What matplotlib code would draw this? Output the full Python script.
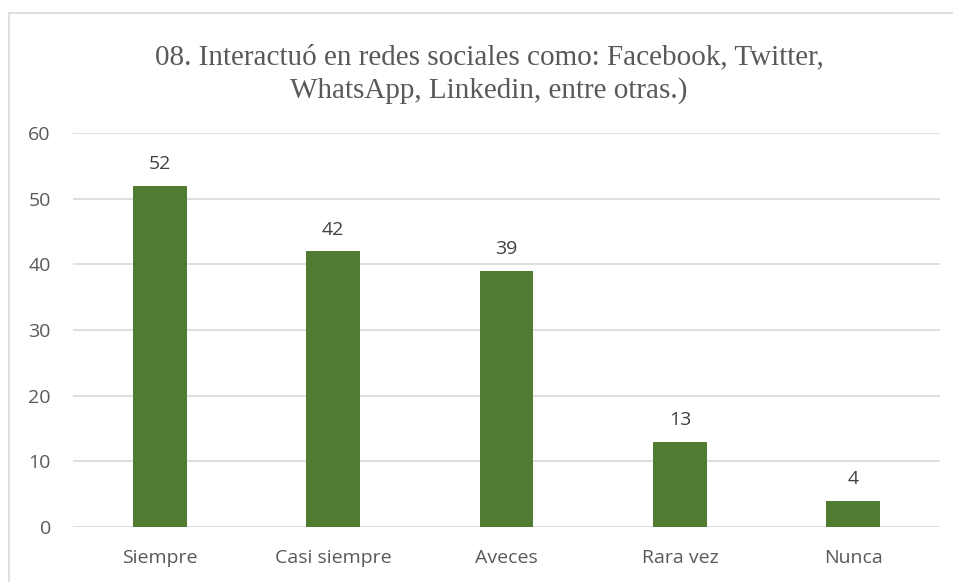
import matplotlib
matplotlib.use("Agg")
import matplotlib.pyplot as plt
from matplotlib.patches import Rectangle

categories = ["Siempre", "Casi siempre", "Aveces", "Rara vez", "Nunca"]
values = [52, 42, 39, 13, 4]
yticks = [0, 10, 20, 30, 40, 50, 60]
title = "08. Interactuó en redes sociales como: Facebook, Twitter,\nWhatsApp, Linkedin, entre otras.)"

W, H = 954, 582
fig = plt.figure(figsize=(W / 100, H / 100), dpi=100)
fig.patch.set_facecolor("white")

# outer chart border
fig.add_artist(Rectangle((9 / W, -0.01), 1.2, (H - 13) / H + 0.01, transform=fig.transFigure,
                         fill=False, edgecolor="#d9d9d9", linewidth=1.2))

left, right = 73 / W, 940 / W
bottom, top = 1 - 527 / H, 1 - 133 / H
ax = fig.add_axes([left, bottom, right - left, top - bottom])

x = list(range(len(categories)))
bars = ax.bar(x, values, width=0.31, color="#507C32", zorder=3)
ax.set_xlim(-0.5, len(categories) - 0.5)
ax.set_ylim(0, 60)
ax.set_yticks(yticks)
ax.set_xticks(x)
ax.set_xticklabels(categories)
ax.grid(axis="y", color="#d9d9d9", linewidth=1.2, zorder=0)
for s in ax.spines.values():
    s.set_visible(False)
ax.tick_params(length=0, labelsize=14, labelcolor="#595959")
ax.tick_params(axis="y", pad=16)
ax.tick_params(axis="x", pad=16)
for lbl in ax.get_xticklabels() + ax.get_yticklabels():
    lbl.set_family(["Open Sans", "DejaVu Sans"])

for b, v in zip(bars, values):
    ax.annotate(str(v), (b.get_x() + b.get_width() / 2, v), xytext=(0, 9),
                textcoords="offset points", ha="center", va="bottom",
                fontsize=14, color="#404040", family=["Open Sans", "DejaVu Sans"])

fig.text(489 / W, 1 - 74 / H, title, ha="center", va="center", fontsize=21,
         color="#595959", family=["Liberation Serif", "DejaVu Serif"], linespacing=1.3)

fig.savefig("out.png", dpi=100)
